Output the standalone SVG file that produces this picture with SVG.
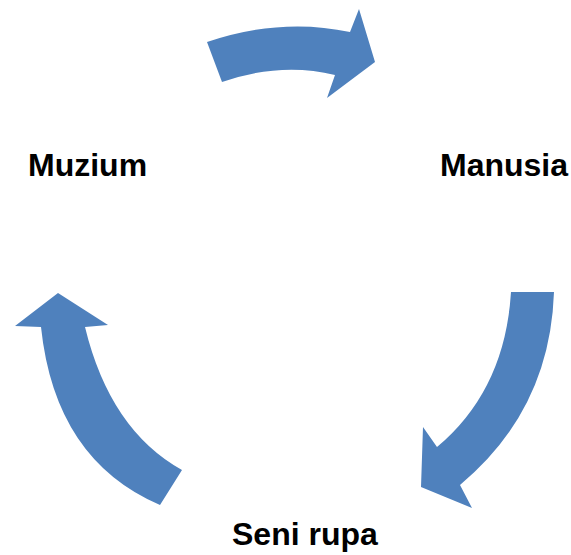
<svg xmlns="http://www.w3.org/2000/svg" width="571" height="555" viewBox="0 0 571 555">
<style>
.arr{fill:#4F81BD;stroke:none}
.lbl{font-family:"Liberation Sans",Arial,sans-serif;font-weight:bold;font-size:32px;fill:#000}
</style>
<rect width="571" height="555" fill="#fff"/>
<g id="connectors">
<path class="arr" d="M207,42 Q281,17 350,32 L359,9 L375,62 L327,98 L335,75 Q281,61.5 222,82 Z"/>
<path class="arr" d="M554,292 Q550,410 460,485 L472,508 L421,487 L423,427 L437,447 Q505,390 511,292 Z"/>
<path class="arr" d="M182,470 Q110,430 85,327 L108,325 L58,293 L15,326 L41,327 Q55,460 160,505 Z"/>
</g>
<g id="muzium"><text class="lbl" x="28" y="176">Muzium</text></g>
<g id="manusia"><text class="lbl" x="440" y="176">Manusia</text></g>
<g id="senirupa"><text class="lbl" x="232" y="545">Seni rupa</text></g>
</svg>
